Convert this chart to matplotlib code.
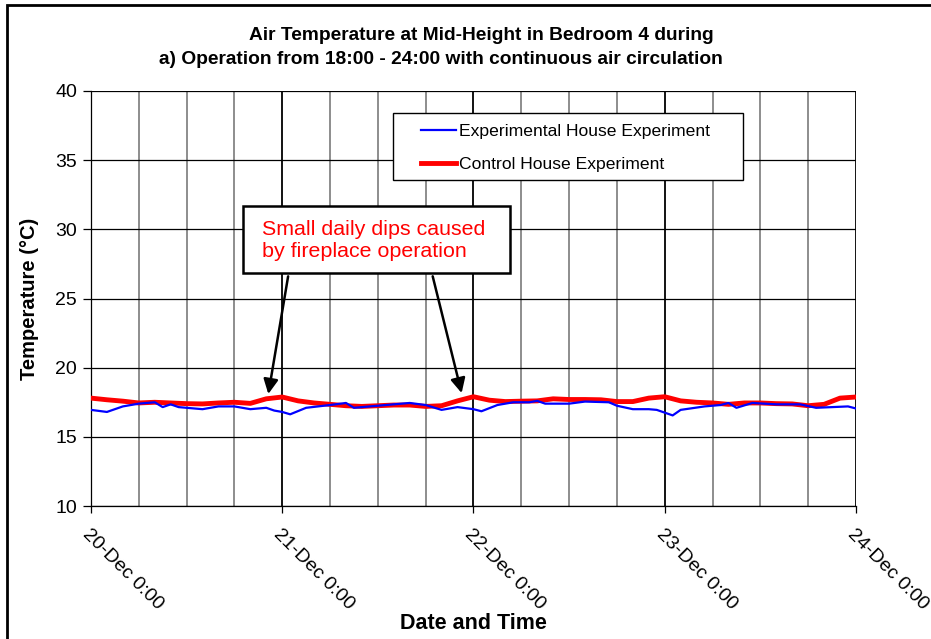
import numpy as np
from matplotlib import pyplot as plt
from matplotlib.patches import Rectangle

plt.rcParams["font.family"] = ["Liberation Sans", "DejaVu Sans"]

# hours since 20-Dec 0:00
exp_hours = [0, 2, 4, 6, 8, 9, 10, 11, 12, 14, 16, 18, 20, 22, 23, 24, 25, 27,
             30, 32, 33, 35, 37, 40, 42, 44, 46, 48, 49, 51, 53, 55, 56, 57, 60,
             62, 65, 66, 68, 70, 71, 73, 74, 77, 79, 80, 81, 83, 86, 89, 91, 93,
             95, 96]
exp_temp = [16.95, 16.8, 17.2, 17.4, 17.5, 17.15, 17.35, 17.15, 17.1, 17.0, 17.2,
            17.2, 17.0, 17.1, 16.9, 16.8, 16.63, 17.1, 17.3, 17.45, 17.1, 17.2,
            17.3, 17.45, 17.3, 16.95, 17.15, 17.0, 16.85, 17.3, 17.5, 17.5, 17.6,
            17.4, 17.4, 17.55, 17.5, 17.25, 17.0, 17.0, 16.95, 16.55, 16.95, 17.2,
            17.3, 17.45, 17.1, 17.45, 17.35, 17.35, 17.1, 17.15, 17.2, 17.05]

ctl_hours = list(range(0, 97, 2))
ctl_temp = [17.8, 17.68, 17.58, 17.45, 17.5, 17.45, 17.4, 17.38, 17.45, 17.5,
            17.42, 17.75, 17.88, 17.6, 17.45, 17.35, 17.25, 17.2, 17.25, 17.3,
            17.3, 17.2, 17.25, 17.6, 17.9, 17.65, 17.55, 17.58, 17.6, 17.75,
            17.7, 17.7, 17.68, 17.55, 17.55, 17.8, 17.9, 17.6, 17.5, 17.45,
            17.35, 17.45, 17.45, 17.4, 17.38, 17.25, 17.35, 17.8, 17.88]

tick_hours = [0, 24, 48, 72, 96]
tick_labels = ["20-Dec 0:00", "21-Dec 0:00", "22-Dec 0:00", "23-Dec 0:00", "24-Dec 0:00"]

fig = plt.figure(figsize=(9.31, 6.39), dpi=100)
ax = fig.add_axes([0.0977, 0.2081, 0.8217, 0.6495])

ax.set_xlim(0, 96)
ax.set_ylim(10, 40)
ax.set_yticks(range(10, 41, 5))
ax.set_xticks(tick_hours)

# gridlines
for h in range(0, 97, 6):
    if h % 24 == 0:
        ax.axvline(h, color="black", lw=1.3, zorder=1)
    else:
        ax.axvline(h, color="#6f6f6f", lw=1.1, zorder=1)
for t in range(10, 41, 5):
    ax.axhline(t, color="black", lw=0.9, zorder=1)

ax.plot(exp_hours, exp_temp, color="#0000ff", lw=1.6, label="Experimental House Experiment", zorder=4)
ax.plot(ctl_hours, ctl_temp, color="#ff0000", lw=3.5, label="Control House Experiment", zorder=3)

for s in ["top", "right"]:
    ax.spines[s].set_visible(False)
ax.spines["left"].set_linewidth(0.9)
ax.spines["bottom"].set_linewidth(0.9)

ax.tick_params(axis="y", direction="out", length=6, width=0.9, labelsize=14, pad=4)
ax.tick_params(axis="x", direction="out", length=5, width=0.9, labelsize=14, pad=9)
ax.set_xticklabels(tick_labels, rotation=-45, ha="left", va="top", rotation_mode="anchor")

ax.set_xlabel("Date and Time", fontsize=15.5, fontweight="bold", labelpad=0)
ax.set_ylabel("Temperature (°C)", fontsize=14.5, fontweight="bold", labelpad=12)

fig.text(481 / 931, 1 - 36 / 639, "Air Temperature at Mid-Height in Bedroom 4 during",
         fontsize=13.8, fontweight="bold", ha="center", va="center")
fig.text(441 / 931, 1 - 60 / 639, "a) Operation from 18:00 - 24:00 with continuous air circulation",
         fontsize=13.8, fontweight="bold", ha="center", va="center")

# legend box drawn separately so the entries can sit inset like the original
ax.add_patch(Rectangle((0.3948, 0.7855), 0.4575, 0.1615, transform=ax.transAxes,
                       facecolor="white", edgecolor="black", lw=1.0, zorder=6))
leg = ax.legend(loc="upper left", bbox_to_anchor=(0.432, 0.921),
                fontsize=12.6, frameon=False, handlelength=2.0, handletextpad=0.15,
                labelspacing=1.0, borderpad=0, borderaxespad=0)
leg.set_zorder(7)

# annotation box
ax.add_patch(Rectangle((0.1987, 0.5614), 0.349, 0.1615, transform=ax.transAxes,
                       facecolor="white", edgecolor="black", lw=1.8, zorder=7))
ax.text(0.2235, 0.640, "Small daily dips caused\nby fireplace operation",
        transform=ax.transAxes, color="red", fontsize=15.4, va="center", ha="left",
        linespacing=1.25, zorder=8)

for start, tip in [((24.8, 26.8), (22.2, 17.9)), ((42.8, 26.8), (46.6, 17.97))]:
    ax.annotate("", xy=tip, xytext=start,
                arrowprops=dict(arrowstyle="-|>", color="black", lw=1.8, mutation_scale=22),
                zorder=5)

fig.add_artist(Rectangle((7 / 931, -0.1), 1.5, 1.1 - 5 / 639, transform=fig.transFigure,
                         facecolor="none", edgecolor="black", lw=2))

fig.savefig("out.png", dpi=100)
